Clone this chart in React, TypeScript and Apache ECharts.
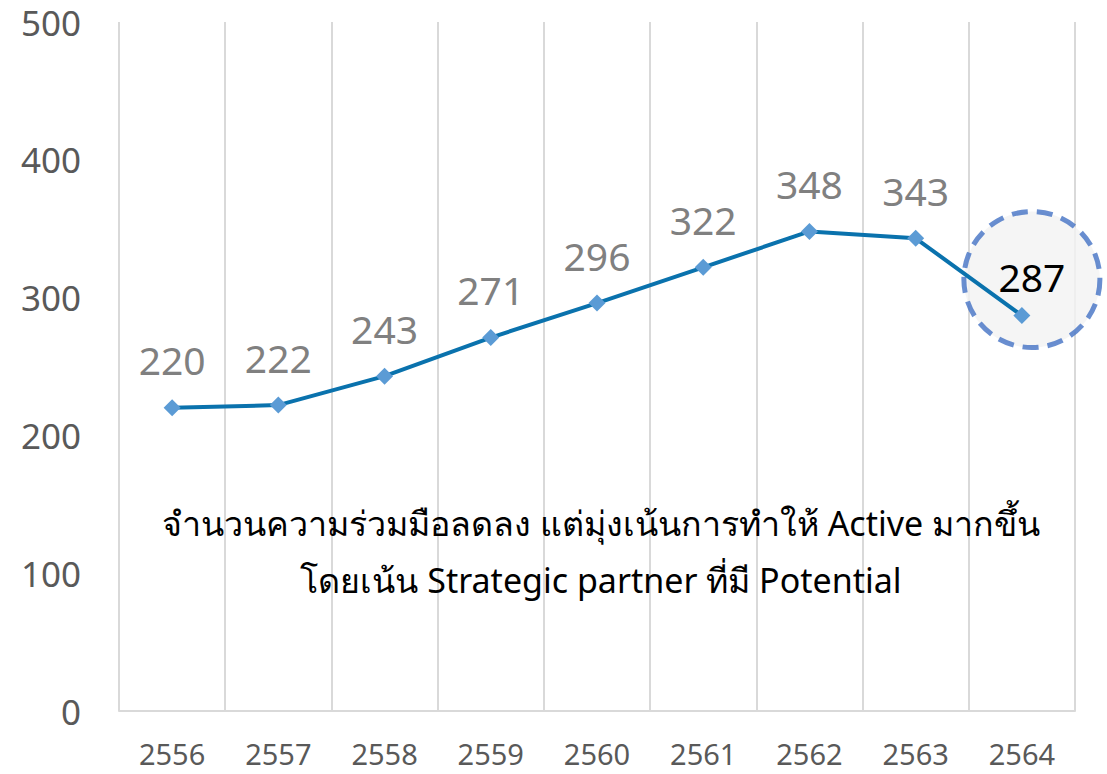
import React, { useEffect, useRef } from "react";
import * as echarts from "echarts";

const years = ["2556", "2557", "2558", "2559", "2560", "2561", "2562", "2563", "2564"];
const values = [220, 222, 243, 271, 296, 322, 348, 343, 287];
const yTicks = [0, 100, 200, 300, 400, 500];
const highlightIndex = 8;
const noteLines = [
  "จำนวนความร่วมมือลดลง แต่มุ่งเน้นการทำให้ Active มากขึ้น",
  "โดยเน้น Strategic partner ที่มี Potential",
];

export default function App() {
  const ref = useRef<HTMLDivElement>(null);
  useEffect(() => {
    if (!ref.current) return;
    const chart = echarts.init(ref.current, undefined, { renderer: "svg" });
    const font = "'Noto Sans', 'Open Sans', sans-serif";
    chart.setOption({
      animation: false,
      textStyle: { fontFamily: font },
      grid: { left: 119, right: 32, top: 22, bottom: 63 },
      xAxis: {
        type: "category",
        data: years,
        boundaryGap: true,
        axisLine: { lineStyle: { color: "#d9d9d9", width: 2 } },
        axisTick: { show: false },
        splitLine: { show: true, interval: 0, lineStyle: { color: "#d9d9d9", width: 2 } },
        axisLabel: {
          color: "#595959",
          fontSize: 29,
          lineHeight: 29,
          margin: 28,
          fontFamily: font,
        },
      },
      yAxis: {
        type: "value",
        min: yTicks[0],
        max: yTicks[yTicks.length - 1],
        interval: 100,
        axisLine: { show: false },
        axisTick: { show: false },
        splitLine: { show: false },
        axisLabel: { color: "#595959", fontSize: 35, lineHeight: 35, margin: 38, fontFamily: font },
      },
      series: [
        {
          type: "scatter",
          z: 1,
          silent: true,
          data: [[highlightIndex, values[highlightIndex]]],
          symbol: "circle",
          symbolSize: 136,
          symbolOffset: [10, -36],
          itemStyle: {
            color: "#f2f2f2",
            borderColor: "#4472c4",
            borderWidth: 5,
            borderType: [16, 9],
          },
        },
        {
          type: "line",
          z: 3,
          data: values.map((v, i) =>
            i === highlightIndex
              ? {
                  value: v,
                  label: { color: "#000000", offset: [10, 9] },
                }
              : v
          ),
          symbol: "diamond",
          symbolSize: 17,
          itemStyle: { color: "#5b9bd5" },
          lineStyle: { color: "#0a72ad", width: 4 },
          label: {
            show: true,
            position: "top",
            distance: 20,
            color: "#808080",
            fontSize: 39,
            fontFamily: font,
          },
        },
      ],
      graphic: noteLines.map((t, i) => ({
        type: "text",
        x: 601,
        y: 523 + i * 57,
        style: {
          text: t,
          align: "center",
          verticalAlign: "middle",
          fill: "#000000",
          fontSize: 34,
          fontFamily: font,
        },
        z: 10,
      })),
    });
    return () => chart.dispose();
  }, []);
  return (
    <div
      ref={ref}
      style={{ position: "fixed", left: 0, top: 0, width: 1107, height: 774, background: "#fff" }}
    />
  );
}
